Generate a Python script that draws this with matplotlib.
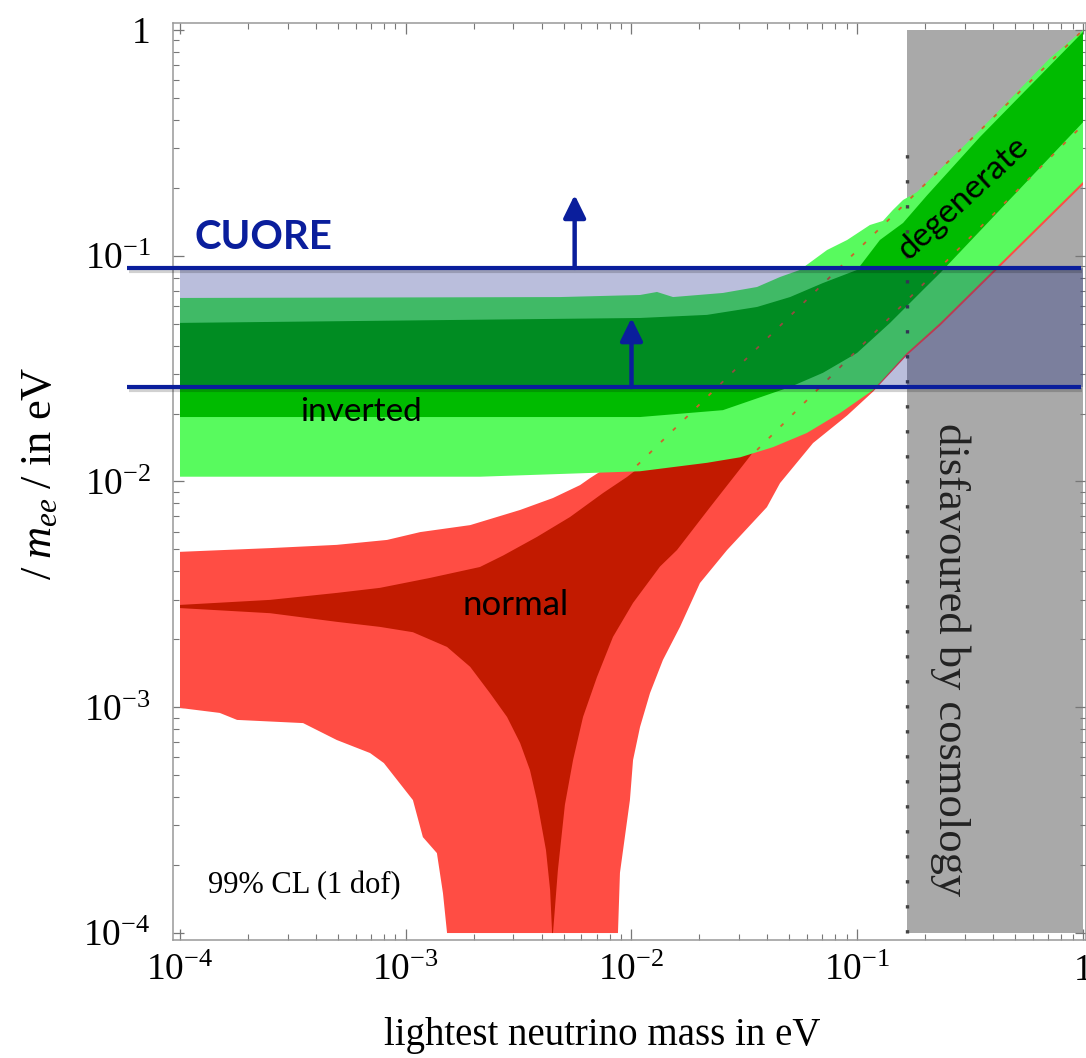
import matplotlib
matplotlib.use("Agg")
import matplotlib.pyplot as plt
import matplotlib.patheffects as pe
import numpy as np
from matplotlib.ticker import FuncFormatter, LogLocator, NullFormatter

plt.rcParams["font.family"] = ["Liberation Serif", "DejaVu Serif"]
plt.rcParams["mathtext.fontset"] = "custom"
plt.rcParams["mathtext.rm"] = "Liberation Serif"
plt.rcParams["mathtext.it"] = "Liberation Serif:italic"

# --- normal ordering, outer (light red) region ---
normal_outer_m = [1e-4, 2.51e-4, 4.95e-4, 8.26e-4, 1.16e-3, 1.93e-3, 3.21e-3, 4.49e-3,
                  5.92e-3, 6.55e-3, 1.21e-2, 3.35e-2, 0.1545, 1.0,
                  1.0, 0.233, 0.166, 0.1175, 0.0902, 0.0637, 0.0455, 0.0398, 0.0265,
                  0.0201, 0.0164, 0.01378, 0.01208, 0.01091, 0.01016, 0.00984, 0.00889,
                  0.00871,
                  1.524e-3, 1.462e-3, 1.374e-3, 1.191e-3, 1.076e-3, 8.0e-4, 6.95e-4,
                  4.95e-4, 3.51e-4, 1.79e-4, 1.50e-4, 1e-4]
normal_outer_mee = [4.88e-3, 5.07e-3, 5.24e-3, 5.51e-3, 5.97e-3, 6.41e-3, 7.48e-3, 8.45e-3,
                    9.64e-3, 1.035e-2, 1.53e-2, 2.30e-2, 6.37e-2, 0.49,
                    0.206, 0.049, 0.0362, 0.0250, 0.0196, 0.0148, 9.84e-3, 7.7e-3, 4.97e-3,
                    3.55e-3, 2.27e-3, 1.62e-3, 1.156e-3, 8.18e-4, 5.84e-4, 3.88e-4, 1.85e-4,
                    1e-4,
                    1e-4, 1.50e-4, 2.26e-4, 2.66e-4, 3.88e-4, 5.66e-4, 6.27e-4,
                    7.16e-4, 8.51e-4, 8.79e-4, 9.44e-4, 9.93e-4]

# --- normal ordering, inner (dark red) region ---
normal_inner_m = [1e-4, 2.51e-4, 4.95e-4, 7.69e-4, 1.28e-3, 2.13e-3, 2.70e-3, 3.81e-3,
                  5.34e-3, 7.48e-3, 9.55e-3, 0.0201, 0.0557, 0.2576, 1.0,
                  1.0, 0.2576, 0.0929, 0.0411, 0.0325, 0.0223, 0.0159, 0.01337,
                  0.01016, 0.00828, 0.00703, 0.00610, 0.00551, 0.00507, 0.00472, 0.00449,
                  0.00445, 0.00436, 0.00418, 0.00381, 0.00355, 0.00321, 0.00281, 0.00236,
                  0.00193, 0.001524, 0.001076, 7.69e-4, 4.95e-4, 2.51e-4, 1e-4]
normal_inner_mee = [2.84e-3, 2.99e-3, 3.21e-3, 3.38e-3, 3.74e-3, 4.18e-3, 4.70e-3, 5.68e-3,
                    6.96e-3, 8.89e-3, 1.047e-2, 0.0187, 0.0424, 0.1174, 0.49,
                    0.326, 0.0705, 0.0267, 0.0169, 0.01245, 0.0077, 0.00497, 0.00420,
                    0.00290, 0.00205, 0.00136, 9.06e-4, 5.84e-4, 3.7e-4, 1.9e-4, 1e-4,
                    1e-4, 1.55e-4, 2.33e-4, 3.88e-4, 5.27e-4, 6.95e-4, 9.06e-4, 1.156e-3,
                    1.51e-3, 1.85e-3, 2.15e-3, 2.27e-3, 2.39e-3, 2.61e-3, 2.75e-3]

# --- inverted ordering, outer (light green) region ---
inverted_outer_m = [1e-4, 0.00482, 0.01091, 0.01297, 0.01528, 0.0254, 0.0360, 0.0455,
                    0.0557, 0.0735, 0.0902, 0.1138, 0.130, 0.1439, 0.1596,
                    0.184, 0.350, 0.715, 1.0,
                    1.0, 0.233, 0.166, 0.1175, 0.0839, 0.0598, 0.0424, 0.0303, 0.0216,
                    0.01091, 0.002133, 1e-4]
inverted_outer_mee = [0.0650, 0.0656, 0.0670, 0.0691, 0.0656, 0.0684, 0.0727, 0.0805,
                      0.0865, 0.106, 0.1174, 0.1368, 0.1426, 0.1595, 0.1766,
                      0.1915, 0.3606, 0.7516, 1.0,
                      0.2123, 0.0504, 0.0371, 0.0254, 0.0201, 0.0164, 0.0142, 0.0128, 0.0121,
                      0.0111, 0.0105, 0.0105]

# --- inverted ordering, inner (green) region ---
inverted_inner_m = [1e-4, 0.01091, 0.0216, 0.0360, 0.0504, 0.0705, 0.0998, 0.126, 0.1596,
                    0.2037, 0.350, 1.0,
                    1.0, 0.233, 0.1954, 0.1397, 0.0998, 0.0705, 0.0504, 0.0424, 0.0254,
                    0.01091, 1e-4]
inverted_inner_mee = [0.0504, 0.0530, 0.0547, 0.0593, 0.0656, 0.0757, 0.0865, 0.1174, 0.1397,
                      0.185, 0.336, 0.98,
                      0.39, 0.0839, 0.0705, 0.0504, 0.0371, 0.0303, 0.0262, 0.0247, 0.0207,
                      0.0193, 0.0193]

# dotted lines inside the degenerate band
dotted_a_m = [0.0106, 1.0]
dotted_a_mee = [0.0118, 1.0]
dotted_b_m = [0.036, 1.0]
dotted_b_mee = [0.0138, 0.38]

# cosmology bound and CUORE sensitivity
cosmo_bound = 0.166
cosmo_dots_top = 0.29
cuore_levels = [0.0883, 0.0262]
cuore_arrow_m = [0.0056, 0.0100]
cuore_arrow_tip = [0.186, 0.053]

BLUE = "#0A1E9C"

fig = plt.figure(figsize=(10.86, 10.58), dpi=100)
ax = fig.add_axes([0.1593, 0.1115, 0.8407, 0.8668])
ax.set_xscale("log")
ax.set_yscale("log")
ax.set_xlim(10 ** -4.031, 10 ** 0.0133)
ax.set_ylim(10 ** -4.031, 10 ** 0.031)

ax.fill_between([cosmo_bound, 1.0], 1e-4, 1.0, color="#A9A9A9", lw=0, zorder=1)
ax.fill(normal_outer_m, normal_outer_mee, color="#FF4D44", lw=0, zorder=2)
ax.fill(normal_inner_m, normal_inner_mee, color="#C21A00", lw=0, zorder=3)
ax.fill(inverted_outer_m, inverted_outer_mee, color="#58FA5E", lw=0, zorder=4)
ax.fill(inverted_inner_m, inverted_inner_mee, color="#00BB00", lw=0, zorder=5)

ax.plot(dotted_a_m, dotted_a_mee, color="#D0602A", lw=1.3, ls=(0, (2.2, 7)), zorder=6)
ax.plot(dotted_b_m, dotted_b_mee, color="#D0602A", lw=1.3, ls=(0, (2.2, 7)), zorder=6)
ax.plot([cosmo_bound, cosmo_bound], [1e-4, cosmo_dots_top], color="#444444", lw=2.4,
        ls=(0, (1, 6.5)), zorder=6)

# CUORE band: translucent overlay, limit lines and arrows
ax.fill_between([1e-4, 1.0], cuore_levels[1], cuore_levels[0], color="#000F7E",
                alpha=0.27, lw=0, zorder=7)
shadow = [pe.SimpleLineShadow(offset=(1, -2), alpha=0.18), pe.Normal()]
for level in cuore_levels:
    ax.plot([-0.05, 0.9945], [level, level], color=BLUE, lw=3.0, zorder=8,
            transform=ax.get_yaxis_transform(), clip_on=False, path_effects=shadow,
            solid_capstyle="butt")
for m, base, tip in zip(cuore_arrow_m, cuore_levels, cuore_arrow_tip):
    ax.annotate("", xy=(m, tip), xytext=(m, base), zorder=9,
                arrowprops=dict(arrowstyle="-|>,head_length=0.55,head_width=0.27",
                                color=BLUE, lw=3.2, mutation_scale=25,
                                shrinkA=0, shrinkB=0))

# labels inside the plot
ax.text(1.16e-4, 0.121, "CUORE", color=BLUE, fontsize=29, fontweight="bold",
        family="Lato", ha="left", va="center", zorder=10)
ax.text(3.40e-4, 0.0203, "inverted", fontsize=24, family="Lato", ha="left",
        va="center", zorder=10)
ax.text(1.79e-3, 0.00284, "normal", fontsize=25, family="Lato", ha="left",
        va="center", zorder=10)
ax.text(0.294, 0.180, "degenerate", fontsize=24, family="Lato", rotation=42.6,
        rotation_mode="anchor", ha="center", va="center", zorder=10)
ax.text(1.33e-4, 1.63e-4, "99% CL (1 dof)", fontsize=22, ha="left", va="center",
        zorder=10)
ax.text(0.2576, 1.62e-3, "disfavoured by cosmology", fontsize=32, color="#222222",
        rotation=-90, ha="center", va="center", zorder=10)


def log_label(v, pos):
    exp = int(round(np.log10(v)))
    if exp == 0:
        return "1"
    return r"$\mathregular{10^{%d}}$" % exp


for axis in (ax.xaxis, ax.yaxis):
    axis.set_major_locator(LogLocator(base=10, numticks=10))
    axis.set_minor_locator(LogLocator(base=10, subs=np.arange(2, 10), numticks=10))
    axis.set_major_formatter(FuncFormatter(log_label))
    axis.set_minor_formatter(NullFormatter())

ax.tick_params(which="both", direction="in", top=True, right=True, color="#777777",
               labelsize=27)
ax.tick_params(which="major", length=8, width=0.9)
ax.tick_params(which="minor", length=4.5, width=0.8)
ax.tick_params(axis="x", pad=10)
ax.tick_params(axis="y", pad=16)
for spine in ax.spines.values():
    spine.set_color("#999999")
    spine.set_linewidth(1.1)

ax.set_xlabel("lightest neutrino mass in eV", fontsize=28)
ax.xaxis.set_label_coords(0.47, -0.104)
ax.xaxis.label.set_va("center")
ax.set_ylabel(r"$/\;m_{ee}\;/$ in eV", fontsize=32)
ax.yaxis.set_label_coords(-0.1457, 0.509)
ax.yaxis.label.set_va("center")

fig.savefig("out.png", dpi=100)
